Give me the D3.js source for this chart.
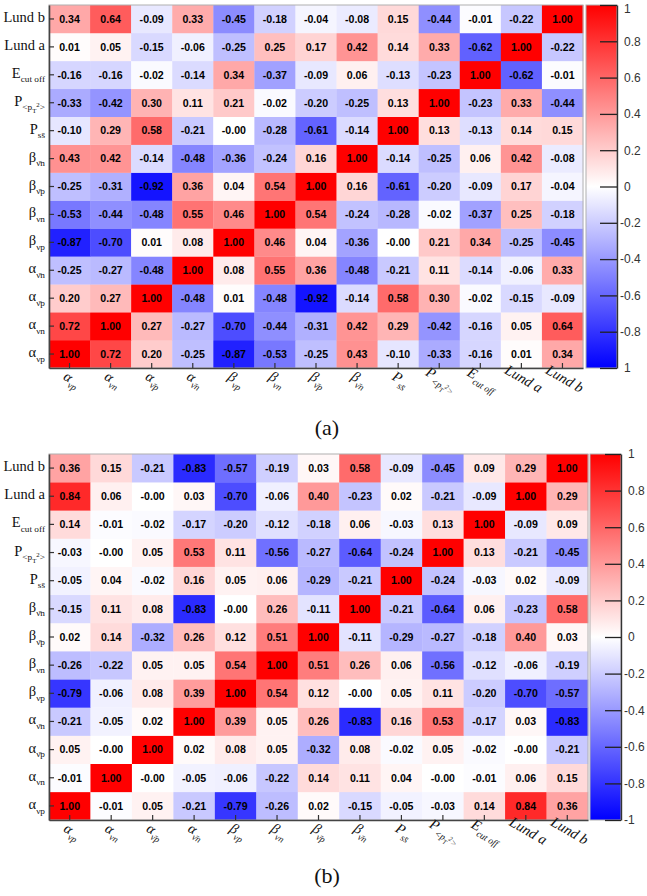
<!DOCTYPE html>
<html>
<head>
<meta charset="utf-8">
<script src="https://cdn.jsdelivr.net/npm/d3@7"></script>
<style>
  body { margin: 0; background: #fff; }
  svg { display: block; }
</style>
</head>
<body>
<svg id="chart" width="647" height="896"></svg>
<script>
// Parameter names: each is a list of [text, level] segments
// level 0 = normal, 1 = subscript, 2 = sub-subscript, 3 = superscript inside a subscript
const paramLabels = [
  [["α", 0], ["νp", 1]],
  [["α", 0], ["νn", 1]],
  [["α", 0], ["ν̄p", 1]],
  [["α", 0], ["ν̄n", 1]],
  [["β", 0], ["νp", 1]],
  [["β", 0], ["νn", 1]],
  [["β", 0], ["ν̄p", 1]],
  [["β", 0], ["ν̄n", 1]],
  [["P", 0], ["ss̄", 1]],
  [["P", 0], ["<p", 1], ["T", 2], ["2", 3], [">", 1]],
  [["E", 0], ["cut off", 1]],
  [["Lund a", 0]],
  [["Lund b", 0]]
];

// Correlation matrix (a): row i / column j follow paramLabels order
const corrA = [
  [ 1.00,  0.72,  0.20, -0.25, -0.87, -0.53, -0.25,  0.43, -0.10, -0.33, -0.16,  0.01,  0.34],
  [ 0.72,  1.00,  0.27, -0.27, -0.70, -0.44, -0.31,  0.42,  0.29, -0.42, -0.16,  0.05,  0.64],
  [ 0.20,  0.27,  1.00, -0.48,  0.01, -0.48, -0.92, -0.14,  0.58,  0.30, -0.02, -0.15, -0.09],
  [-0.25, -0.27, -0.48,  1.00,  0.08,  0.55,  0.36, -0.48, -0.21,  0.11, -0.14, -0.06,  0.33],
  [-0.87, -0.70,  0.01,  0.08,  1.00,  0.46,  0.04, -0.36, -0.00,  0.21,  0.34, -0.25, -0.45],
  [-0.53, -0.44, -0.48,  0.55,  0.46,  1.00,  0.54, -0.24, -0.28, -0.02, -0.37,  0.25, -0.18],
  [-0.25, -0.31, -0.92,  0.36,  0.04,  0.54,  1.00,  0.16, -0.61, -0.20, -0.09,  0.17, -0.04],
  [ 0.43,  0.42, -0.14, -0.48, -0.36, -0.24,  0.16,  1.00, -0.14, -0.25,  0.06,  0.42, -0.08],
  [-0.10,  0.29,  0.58, -0.21, -0.00, -0.28, -0.61, -0.14,  1.00,  0.13, -0.13,  0.14,  0.15],
  [-0.33, -0.42,  0.30,  0.11,  0.21, -0.02, -0.20, -0.25,  0.13,  1.00, -0.23,  0.33, -0.44],
  [-0.16, -0.16, -0.02, -0.14,  0.34, -0.37, -0.09,  0.06, -0.13, -0.23,  1.00, -0.62, -0.01],
  [ 0.01,  0.05, -0.15, -0.06, -0.25,  0.25,  0.17,  0.42,  0.14,  0.33, -0.62,  1.00, -0.22],
  [ 0.34,  0.64, -0.09,  0.33, -0.45, -0.18, -0.04, -0.08,  0.15, -0.44, -0.01, -0.22,  1.00]
];

// Correlation matrix (b)
const corrB = [
  [ 1.00, -0.01,  0.05, -0.21, -0.79, -0.26,  0.02, -0.15, -0.05, -0.03,  0.14,  0.84,  0.36],
  [-0.01,  1.00, -0.00, -0.05, -0.06, -0.22,  0.14,  0.11,  0.04, -0.00, -0.01,  0.06,  0.15],
  [ 0.05, -0.00,  1.00,  0.02,  0.08,  0.05, -0.32,  0.08, -0.02,  0.05, -0.02, -0.00, -0.21],
  [-0.21, -0.05,  0.02,  1.00,  0.39,  0.05,  0.26, -0.83,  0.16,  0.53, -0.17,  0.03, -0.83],
  [-0.79, -0.06,  0.08,  0.39,  1.00,  0.54,  0.12, -0.00,  0.05,  0.11, -0.20, -0.70, -0.57],
  [-0.26, -0.22,  0.05,  0.05,  0.54,  1.00,  0.51,  0.26,  0.06, -0.56, -0.12, -0.06, -0.19],
  [ 0.02,  0.14, -0.32,  0.26,  0.12,  0.51,  1.00, -0.11, -0.29, -0.27, -0.18,  0.40,  0.03],
  [-0.15,  0.11,  0.08, -0.83, -0.00,  0.26, -0.11,  1.00, -0.21, -0.64,  0.06, -0.23,  0.58],
  [-0.05,  0.04, -0.02,  0.16,  0.05,  0.06, -0.29, -0.21,  1.00, -0.24, -0.03,  0.02, -0.09],
  [-0.03, -0.00,  0.05,  0.53,  0.11, -0.56, -0.27, -0.64, -0.24,  1.00,  0.13, -0.21, -0.45],
  [ 0.14, -0.01, -0.02, -0.17, -0.20, -0.12, -0.18,  0.06, -0.03,  0.13,  1.00, -0.09,  0.09],
  [ 0.84,  0.06, -0.00,  0.03, -0.70, -0.06,  0.40, -0.23,  0.02, -0.21, -0.09,  1.00,  0.29],
  [ 0.36,  0.15, -0.21, -0.83, -0.57, -0.19,  0.03,  0.58, -0.09, -0.45,  0.09,  0.29,  1.00]
];

// Colour-bar ticks and their labels
const cbarTicks   = [1, 0.8, 0.6, 0.4, 0.2, 0, -0.2, -0.4, -0.6, -0.8, -1];
const cbarLabelsA = ["1", "0.8", "0.6", "0.4", "0.2", "0", "-0.2", "-0.4", "-0.6", "-0.8", "1"];
const cbarLabelsB = ["1", "0.8", "0.6", "0.4", "0.2", "0", "-0.2", "-0.4", "-0.6", "-0.8", "-1"];
const captions = ["(a)", "(b)"];

const svg = d3.select("#chart");
const color = d3.scaleLinear().domain([-1, 0, 1]).range(["#0000ff", "#ffffff", "#ff0000"]);

// signed two-decimal label, keeping "-0.00"
function fmt(v) {
  const neg = v < 0 || Object.is(v, -0);
  return (neg ? "-" : "") + Math.abs(v).toFixed(2);
}

// vertical offsets (in em of base size) and size factors for each level
const levelOffset = [0, 0.32, 0.52, 0.12];
const levelSize = [1, 0.64, 0.47, 0.47];

function writeLabel(textSel, segs, base) {
  let prev = 0;
  segs.forEach(([t, lvl]) => {
    const dy = (levelOffset[lvl] - levelOffset[prev]) * base;
    textSel.append("tspan")
      .attr("dy", dy)
      .attr("font-size", base * levelSize[lvl])
      .text(t);
    prev = lvl;
  });
}

function drawPanel(idx, corr, geo, cbarLabels) {
  const g = svg.append("g");
  const n = paramLabels.length;
  const ids = d3.range(n);

  const x = d3.scaleBand().domain(ids).range([geo.left, geo.right]);
  const y = d3.scaleBand().domain(ids).range([geo.bottom, geo.top]);

  const cells = [];
  corr.forEach((row, i) => row.forEach((v, j) => cells.push({ i, j, v })));

  g.selectAll("rect.cell").data(cells).join("rect")
    .attr("class", "cell")
    .attr("x", d => x(d.j))
    .attr("y", d => y(d.i))
    .attr("width", x.bandwidth() + 0.3)
    .attr("height", y.bandwidth() + 0.3)
    .attr("fill", d => color(d.v));

  g.selectAll("text.val").data(cells).join("text")
    .attr("class", "val")
    .attr("x", d => x(d.j) + x.bandwidth() / 2)
    .attr("y", d => y(d.i) + y.bandwidth() / 2 + 3.8)
    .attr("text-anchor", "middle")
    .attr("font-family", "'Liberation Sans', Arial, sans-serif")
    .attr("font-weight", "bold")
    .attr("font-size", 10.6)
    .attr("fill", "#000")
    .text(d => fmt(d.v));

  // light frame on top/right
  g.append("rect")
    .attr("x", geo.left).attr("y", geo.top)
    .attr("width", geo.right - geo.left).attr("height", geo.bottom - geo.top)
    .attr("fill", "none").attr("stroke", "#b0b0b0").attr("stroke-width", 1);

  // axes
  const xAxis = g.append("g")
    .attr("transform", `translate(0,${geo.bottom})`)
    .call(d3.axisBottom(x).tickSize(-5).tickSizeOuter(0).tickFormat(""));
  const yAxis = g.append("g")
    .attr("transform", `translate(${geo.left},0)`)
    .call(d3.axisLeft(y).tickSize(-5).tickSizeOuter(0).tickFormat(""));
  [xAxis, yAxis].forEach(a => {
    a.select(".domain").attr("stroke", "#444").attr("stroke-width", 1.6);
    a.selectAll(".tick line").attr("stroke", "#333").attr("stroke-width", 1.2);
  });

  // y labels (upright serif)
  ids.forEach(i => {
    const t = g.append("text")
      .attr("x", geo.left - 4)
      .attr("y", y(i) + y.bandwidth() / 2 + 3)
      .attr("text-anchor", "end")
      .attr("font-family", "'Liberation Serif', 'Times New Roman', serif")
      .attr("fill", "#111");
    writeLabel(t, paramLabels[i], 14.5);
  });

  // x labels (italic serif, slanted)
  ids.forEach(j => {
    const cx = x(j) + x.bandwidth() / 2;
    const cy = geo.bottom + 15;
    const t = g.append("text")
      .attr("transform", `translate(${cx},${cy}) rotate(30)`)
      .attr("text-anchor", "middle")
      .attr("font-family", "'Liberation Serif', 'Times New Roman', serif")
      .attr("font-style", "italic")
      .attr("fill", "#111");
    writeLabel(t, paramLabels[j], 14.5);
  });

  // colour bar
  const gradId = "grad" + idx;
  const grad = svg.append("defs").append("linearGradient")
    .attr("id", gradId).attr("x1", 0).attr("y1", 1).attr("x2", 0).attr("y2", 0);
  d3.range(0, 1.0001, 0.05).forEach(t => {
    grad.append("stop").attr("offset", t).attr("stop-color", color(-1 + 2 * t));
  });
  const cb = geo.cbar;
  g.append("rect")
    .attr("x", cb.left).attr("y", geo.top)
    .attr("width", cb.right - cb.left).attr("height", geo.bottom - geo.top)
    .attr("fill", `url(#${gradId})`)
    .attr("stroke", "#b0b0b0").attr("stroke-width", 1);

  const cbScale = d3.scaleLinear().domain([-1, 1]).range([geo.bottom, geo.top]);
  const cbAxis = g.append("g")
    .attr("transform", `translate(${cb.right},0)`)
    .call(d3.axisRight(cbScale).tickValues(cbarTicks).tickSize(-cb.tick).tickSizeOuter(0)
      .tickPadding(7).tickFormat((d, k) => cbarLabels[k]));
  cbAxis.select(".domain").attr("stroke", "#333").attr("stroke-width", 1.4);
  cbAxis.selectAll(".tick line").attr("stroke", "#222").attr("stroke-width", 1.3);
  cbAxis.selectAll(".tick text")
    .attr("font-family", "'Liberation Sans', Arial, sans-serif")
    .attr("font-size", 12)
    .attr("fill", "#333")
    .attr("dx", (d, k) => cbarLabels[k].startsWith("-") ? -4 : 0)
    // keep the top label inside the page
    .attr("dy", d => (cbScale(d) < 8 ? "0.32em" : "0.32em"))
    .attr("y", d => Math.max(0, 9 - cbScale(d)));

  // caption
  g.append("text")
    .attr("x", 327).attr("y", geo.caption)
    .attr("text-anchor", "middle")
    .attr("font-family", "'Liberation Serif', 'Times New Roman', serif")
    .attr("font-size", 22)
    .attr("fill", "#111")
    .text(captions[idx]);
}

drawPanel(0, corrA, {
  left: 49, right: 583, top: 5, bottom: 368,
  cbar: { left: 586, right: 617, tick: 17 },
  caption: 435
}, cbarLabelsA);

drawPanel(1, corrB, {
  left: 49, right: 588, top: 454, bottom: 820,
  cbar: { left: 590, right: 621, tick: 16 },
  caption: 883
}, cbarLabelsB);
</script>
</body>
</html>
